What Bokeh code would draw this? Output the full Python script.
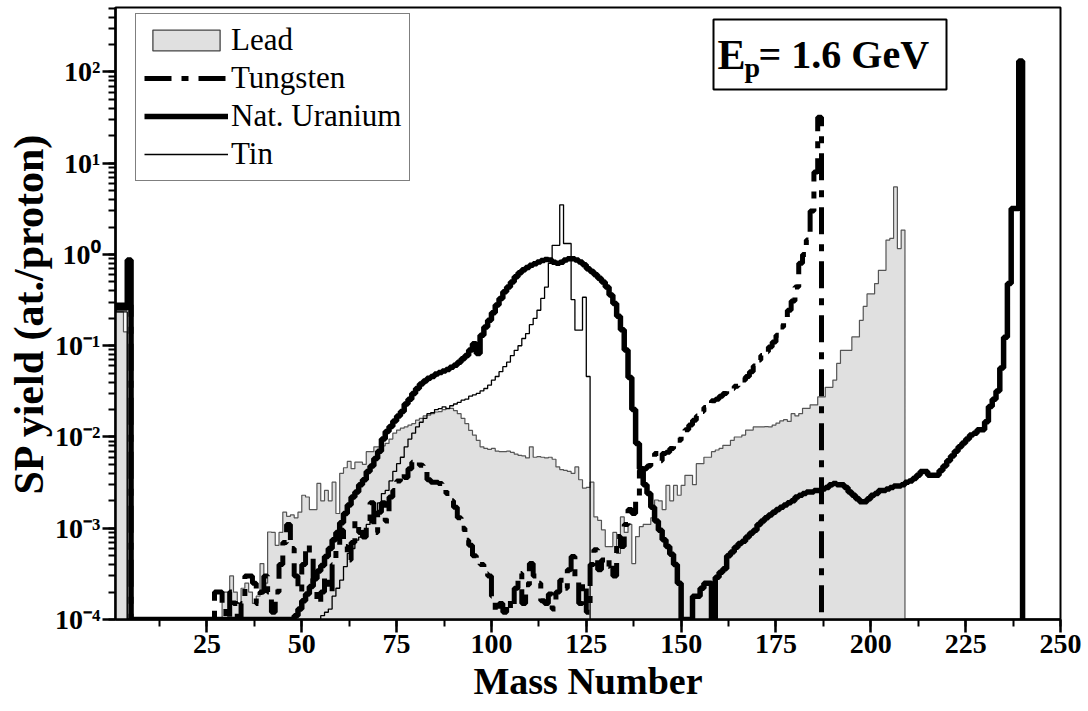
import numpy as np
from bokeh.plotting import figure
from bokeh.models import (Range1d, SingleIntervalTicker, LogTicker, CustomJSTickFormatter,
                          Legend, LegendItem, Label, BoxAnnotation, ColumnDataSource)
from bokeh.embed import file_html
from bokeh.resources import INLINE

# ---------------- data (SP yield per mass bin, bins start at A=1) ----------------
lead = [0.235, 0.235, 0.142, 0,
        0, 0, 0, 0, 0, 0, 0, 0, 0, 0, 0, 0, 0, 0, 0, 0, 0, 0, 0, 0, 0, 0, 0, 0,
        2e-4, 2e-4, 3e-4, 2e-4, 1.5e-4, 2.2e-4, 2.5e-4, 2e-4, 1.5e-4, 1.8e-4,
        4.1e-4, 2.5e-4, 9.1e-4, 9e-4, 6.5e-4, 9e-4, 1.5e-3, 1.35e-3, 1.4e-3, 1.3e-3,
        1.5e-3, 2.3e-3, 2.2e-3, 1.6e-3, 1.6e-3, 3.1e-3, 2e-3, 2.6e-3, 2e-3, 3.2e-3,
        1.45e-3, 4e-3, 4.6e-3, 5.4e-3, 4.5e-3, 5.3e-3, 5.3e-3, 5.0e-3, 6.9e-3, 6.9e-3,
        7.8e-3, 7.8e-3, 8e-3, 8.5e-3, 9.5e-3, 0.011, 0.0119, 0.0125, 0.0129, 0.0135,
        0.014, 0.0153, 0.016, 0.017, 0.0174, 0.018, 0.0188, 0.019, 0.02, 0.0206,
        0.0206, 0.0195, 0.018, 0.016, 0.014, 0.0118, 0.0105, 9.2e-3, 7.8e-3, 7.5e-3,
        7.3e-3, 7.5e-3, 7.0e-3, 6.9e-3, 6.9e-3, 7.0e-3, 6.8e-3, 6.5e-3, 6.3e-3, 6.2e-3,
        5.9e-3, 7.8e-3, 6e-3, 6.1e-3, 6e-3, 5.9e-3, 6e-3, 5.7e-3, 4.7e-3, 4.4e-3,
        4.3e-3, 4.2e-3, 4.0e-3, 4.7e-3, 3.4e-3, 2.75e-3, 2.8e-3, 3.2e-3, 1.33e-3, 1.22e-3,
        9.6e-4, 6.3e-4, 6.3e-4, 9e-4, 5.3e-4, 1.33e-3, 9e-4, 1.1e-3, 4.1e-4, 8.1e-4,
        1.04e-3, 1.1e-3, 1.1e-3, 1.3e-3, 2.04e-3, 2.0e-3, 1.6e-3, 2.95e-3, 2.0e-3, 2.95e-3,
        2.3e-3, 2.95e-3, 3.8e-3, 3.8e-3, 3.0e-3, 5.1e-3, 5.1e-3, 6e-3, 6e-3, 6.9e-3,
        7.2e-3, 7.5e-3, 8.1e-3, 8.1e-3, 9.2e-3, 0.01, 0.01, 0.0105, 0.0119, 0.0119,
        0.0129, 0.0129, 0.0129, 0.013, 0.0129, 0.0135, 0.0142, 0.015, 0.0155, 0.0148,
        0.018, 0.017, 0.018, 0.0206, 0.0206, 0.0225, 0.0225, 0.0275, 0.0275, 0.035,
        0.035, 0.042, 0.064, 0.089, 0.089, 0.089, 0.125, 0.125, 0.19, 0.27,
        0.37, 0.37, 0.48, 0.67, 0.67, 1.44, 1.5, 5.5, 1.16, 1.85]

tungsten = [0.28, 0.28, 0.28, 0.28,
            0, 0, 0, 0, 0, 0, 0, 0, 0, 0, 0, 0, 0, 0, 0, 0, 0, 0, 0, 0, 0, 0,
            2e-4, 2e-4, 1.5e-4, 0, 2e-4, 1.5e-4, 0, 1.5e-4, 3e-4, 3e-4,
            2.5e-4, 1.5e-4, 2e-4, 3e-4, 2e-4, 1.2e-4, 2e-4, 4e-4, 7e-4, 1.1e-3,
            6e-4, 3e-4, 2e-4, 4e-4, 6.5e-4, 5e-4, 2.5e-4, 1.5e-4, 2e-4, 3e-4,
            2e-4, 4e-4, 6e-4, 9.5e-4, 6.3e-4, 4.5e-4, 7e-4, 1.2e-3, 9e-4, 8e-4,
            1.2e-3, 1.9e-3, 9e-4, 1.5e-3, 1.9e-3, 1.2e-3, 2.2e-3, 2.6e-3, 3.3e-3, 4e-3,
            3.6e-3, 4.5e-3, 5.3e-3, 5.5e-3, 4.9e-3, 4.6e-3, 3.4e-3, 3.2e-3, 3.2e-3, 3.1e-3,
            3.0e-3, 2.4e-3, 2.0e-3, 1.7e-3, 1.3e-3, 1.0e-3, 7.4e-4, 6.5e-4, 5.0e-4, 4.2e-4,
            4.0e-4, 3.2e-4, 3.0e-4, 1.8e-4, 1.2e-4, 1.5e-4, 1.2e-4, 1.6e-4, 1.3e-4, 2.2e-4,
            3.2e-4, 1.5e-4, 2.4e-4, 4.1e-4, 3.0e-4, 2.5e-4, 1.6e-4, 1.5e-4, 1.9e-4, 1.3e-4,
            2e-4, 2.7e-4, 2.2e-4, 3.5e-4, 4.9e-4, 2.7e-4, 1.5e-4, 2.5e-4, 1.2e-4, 4e-4,
            5.8e-4, 3.5e-4, 4.5e-4, 3.8e-4, 4.5e-4, 3e-4, 8.1e-4, 6.3e-4, 1.1e-3, 1.6e-3,
            1.45e-3, 2.2e-3, 4.3e-3, 4.5e-3, 4.8e-3, 5.3e-3, 6.6e-3, 5.5e-3, 6.6e-3, 6.8e-3,
            7.5e-3, 8.5e-3, 9.2e-3, 0.0105, 0.012, 0.0135, 0.0153, 0.017, 0.019, 0.021,
            0.023, 0.025, 0.026, 0.028, 0.03, 0.032, 0.034, 0.036, 0.038, 0.042,
            0.046, 0.052, 0.06, 0.07, 0.078, 0.086, 0.097, 0.11, 0.13, 0.16,
            0.19, 0.245, 0.31, 0.44, 0.8, 1.0, 1.44, 3.0, 8.0, 32.0]

uranium = [0.26, 0.26, 0.26, 0.87,
           0, 0, 0, 0, 0, 0, 0, 0, 0, 0, 0, 0, 0, 0, 0, 0, 0, 0, 0, 0, 0, 0,
           0, 0, 0, 0, 0, 0, 0, 0, 0, 0, 0, 0, 0, 0, 0, 0, 0, 0, 0, 0, 0,
           1.1e-4, 1.3e-4, 1.6e-4, 1.9e-4, 2.3e-4, 2.8e-4, 3.4e-4, 3.9e-4, 4.9e-4, 6.0e-4,
           7.5e-4, 9.0e-4, 1.15e-3, 1.45e-3, 1.8e-3, 2.2e-3, 2.5e-3, 3.0e-3, 3.4e-3, 4.2e-3,
           4.8e-3, 5.8e-3, 7.0e-3, 9.5e-3, 0.0115, 0.013, 0.015, 0.017, 0.019, 0.023,
           0.026, 0.030, 0.034, 0.038, 0.041, 0.044, 0.046, 0.049, 0.051, 0.053,
           0.055, 0.058, 0.061, 0.066, 0.072, 0.078, 0.09, 0.105, 0.082, 0.13,
           0.16, 0.19, 0.23, 0.28, 0.33, 0.39, 0.44, 0.50, 0.57, 0.63,
           0.68, 0.72, 0.76, 0.79, 0.83, 0.86, 0.88, 0.87, 0.82, 0.80,
           0.82, 0.87, 0.90, 0.90, 0.87, 0.83, 0.77, 0.70, 0.65, 0.60,
           0.55, 0.50, 0.44, 0.36, 0.29, 0.21, 0.15, 0.09, 0.045, 0.02,
           8.5e-3, 4.5e-3, 3.0e-3, 2.4e-3, 1.7e-3, 1.2e-3, 9.5e-4, 7.5e-4, 6.3e-4, 5.2e-4,
           4.0e-4, 2.5e-4, 0, 0, 0, 1.8e-4, 1.8e-4, 2.2e-4, 2.5e-4, 2.5e-4,
           0, 2.9e-4, 3.3e-4, 3.6e-4, 5.0e-4, 5.5e-4, 6.2e-4, 6.8e-4, 7.2e-4, 8.0e-4,
           8.8e-4, 9.5e-4, 1.1e-3, 1.2e-3, 1.3e-3, 1.4e-3, 1.5e-3, 1.6e-3, 1.7e-3, 1.8e-3,
           1.9e-3, 2.0e-3, 2.2e-3, 2.3e-3, 2.4e-3, 2.5e-3, 2.5e-3, 2.6e-3, 2.6e-3, 2.7e-3,
           2.8e-3, 3.0e-3, 3.1e-3, 3.0e-3, 3.0e-3, 2.8e-3, 2.5e-3, 2.3e-3, 2.1e-3, 1.95e-3,
           1.95e-3, 2.1e-3, 2.3e-3, 2.4e-3, 2.6e-3, 2.6e-3, 2.7e-3, 2.8e-3, 2.9e-3, 2.9e-3,
           3.0e-3, 3.2e-3, 3.3e-3, 3.5e-3, 3.8e-3, 4.2e-3, 4.2e-3, 3.8e-3, 3.8e-3, 3.8e-3,
           4.3e-3, 4.8e-3, 5.5e-3, 6.2e-3, 7.0e-3, 7.8e-3, 8.6e-3, 9.5e-3, 0.0105, 0.011,
           0.012, 0.012, 0.0147, 0.0216, 0.026, 0.032, 0.057, 0.124, 0.48, 3.2,
           3.2, 132.0]

tin = [0.235, 0.235, 0.235, 0,
       0, 0, 0, 0, 0, 0, 0, 0, 0, 0, 0, 0, 0, 0, 0, 0, 0, 0, 0, 0, 0,
       0, 0, 0, 0, 0, 0, 0, 0, 0, 0, 0, 0, 0, 0, 0, 0, 0, 0, 0, 0,
       0, 0, 0, 0, 0, 0, 0, 0, 0,
       1.1e-4, 1.2e-4, 1.3e-4, 1.8e-4, 2.2e-4, 2.7e-4, 3.8e-4, 5.3e-4, 6e-4, 7.4e-4,
       8e-4, 9.5e-4, 1.1e-3, 1.33e-3, 1.5e-3, 1.9e-3, 2.4e-3, 2.6e-3, 3.3e-3, 4.2e-3,
       5.1e-3, 6e-3, 7.8e-3, 9.5e-3, 0.011, 0.0129, 0.0145, 0.016, 0.018, 0.0185,
       0.02, 0.0205, 0.0214, 0.0205, 0.022, 0.023, 0.024, 0.0253, 0.026, 0.028,
       0.029, 0.030, 0.032, 0.034, 0.037, 0.042, 0.046, 0.052, 0.059, 0.066,
       0.078, 0.089, 0.10, 0.12, 0.136, 0.17, 0.2, 0.245, 0.33, 0.44,
       0.8, 1.26, 1.26, 3.5, 1.32, 1.32, 0.32, 0.148, 0.148, 0.34,
       0.046]

x_ticks_interval = 25
YMIN, YMAX = 1e-4, 509.0
XMIN, XMAX = 0.9, 250.0


def step_source(vals):
    a = list(range(1, len(vals) + 2))          # bin left edges + closing edge
    y = np.maximum(np.array(list(vals) + [0.0]), YMIN)
    return ColumnDataSource(dict(a=a, y=y))


src_lead = step_source(lead)
src_w = step_source(tungsten)
src_u = step_source(uranium)
src_sn = step_source(tin)

lead_bins = ColumnDataSource(dict(
    left=list(range(1, len(lead) + 1)), right=list(range(2, len(lead) + 2)),
    top=np.maximum(np.array(lead, dtype=float), YMIN), bottom=[YMIN] * len(lead)))

FONT = "Liberation Serif"

p = figure(width=1088, height=711, output_backend="svg", toolbar_location=None,
           y_axis_type="log", x_range=Range1d(XMIN, XMAX), y_range=Range1d(YMIN, YMAX),
           min_border_left=115, min_border_right=28, min_border_top=7, min_border_bottom=92)
p.background_fill_color = "white"
p.border_fill_color = "white"
p.outline_line_color = "black"
p.outline_line_width = 2
p.xgrid.visible = False
p.ygrid.visible = False

# series
r_lead = p.varea_step(x="a", y1=YMIN, y2="y", step_mode="after", source=src_lead,
                      fill_color="#e0e0e0")
p.step(x="a", y="y", mode="after", source=src_lead, line_color="#555555", line_width=1.2)
# legend swatch for lead (hidden in the plot area, used only by the legend)
r_lead_box = p.quad(left="left", right="right", top="top", bottom="bottom", source=lead_bins,
                     fill_color="#e0e0e0", line_color="#444444", line_width=1.3)
r_lead_box.visible = False
r_sn = p.step(x="a", y="y", mode="after", source=src_sn, line_color="black", line_width=1.3)
r_w = p.step(x="a", y="y", mode="after", source=src_w, line_color="black", line_width=5,
             line_dash="27 10 7 10")
r_u = p.step(x="a", y="y", mode="after", source=src_u, line_color="black", line_width=5.5)

# axes
xa = p.xaxis[0]
xa.ticker = SingleIntervalTicker(interval=x_ticks_interval, num_minor_ticks=2)
ya = p.yaxis[0]
ya.ticker = LogTicker(num_minor_ticks=10)
ya.formatter = CustomJSTickFormatter(code="""
const sup = {'-':'\u207b','0':'\u2070','1':'\u00b9','2':'\u00b2','3':'\u00b3','4':'\u2074',
             '5':'\u2075','6':'\u2076','7':'\u2077','8':'\u2078','9':'\u2079'};
const e = Math.round(Math.log10(tick));
return '10' + String(e).split('').map(c => sup[c]).join('');
""")
for ax in (xa, ya):
    ax.axis_line_width = 2.5
    ax.axis_line_color = "black"
    ax.major_tick_line_width = 2.5
    ax.minor_tick_line_width = 2
    ax.major_tick_out = 13
    ax.major_tick_in = 0
    ax.minor_tick_out = 7
    ax.minor_tick_in = 0
    ax.major_label_text_font = FONT
    ax.major_label_text_font_style = "bold"
    ax.major_label_text_color = "black"
    ax.axis_label_text_font = FONT
    ax.axis_label_text_font_style = "bold"
    ax.axis_label_text_color = "black"
xa.major_label_text_font_size = "28px"
ya.major_label_text_font_size = "28px"
xa.axis_label_text_font_size = "38px"
ya.axis_label_text_font_size = "42px"
xa.axis_label = "Mass Number"
ya.axis_label = "SP yield (at./proton)"
xa.major_label_standoff = 2
xa.axis_label_standoff = 4
ya.major_label_standoff = 2
ya.axis_label_standoff = 0

# legend
legend = Legend(items=[
    LegendItem(label="Lead", renderers=[r_lead_box]),
    LegendItem(label="Tungsten", renderers=[r_w]),
    LegendItem(label="Nat. Uranium", renderers=[r_u]),
    LegendItem(label="Tin", renderers=[r_sn]),
], location=(20, 438))
legend.label_text_font = FONT
legend.label_text_font_size = "31px"
legend.label_text_color = "black"
legend.border_line_color = "black"
legend.border_line_width = 1.5
legend.background_fill_color = "white"
legend.background_fill_alpha = 1
legend.glyph_width = 84
legend.glyph_height = 26
legend.label_standoff = 3
legend.padding = 8
legend.spacing = 2
legend.margin = 0
p.add_layout(legend, "center")

# energy box
p.add_layout(BoxAnnotation(left=598, right=831, bottom=530, top=600,
                           left_units="screen", right_units="screen",
                           bottom_units="screen", top_units="screen",
                           fill_color="white", fill_alpha=1,
                           line_color="black", line_alpha=1, line_width=2, level="overlay"))
for txt, xx, yy, size in [("E", 602, 565, "42px"), ("p", 629, 552, "28px"),
                          ("= 1.6 GeV", 643, 565, "40px")]:
    p.add_layout(Label(x=xx, y=yy, x_units="screen", y_units="screen", text=txt,
                       text_font=FONT, text_font_style="bold", text_font_size=size,
                       text_color="black", text_baseline="middle", level="overlay"))

open("out.html", "w").write(file_html(p, INLINE))
